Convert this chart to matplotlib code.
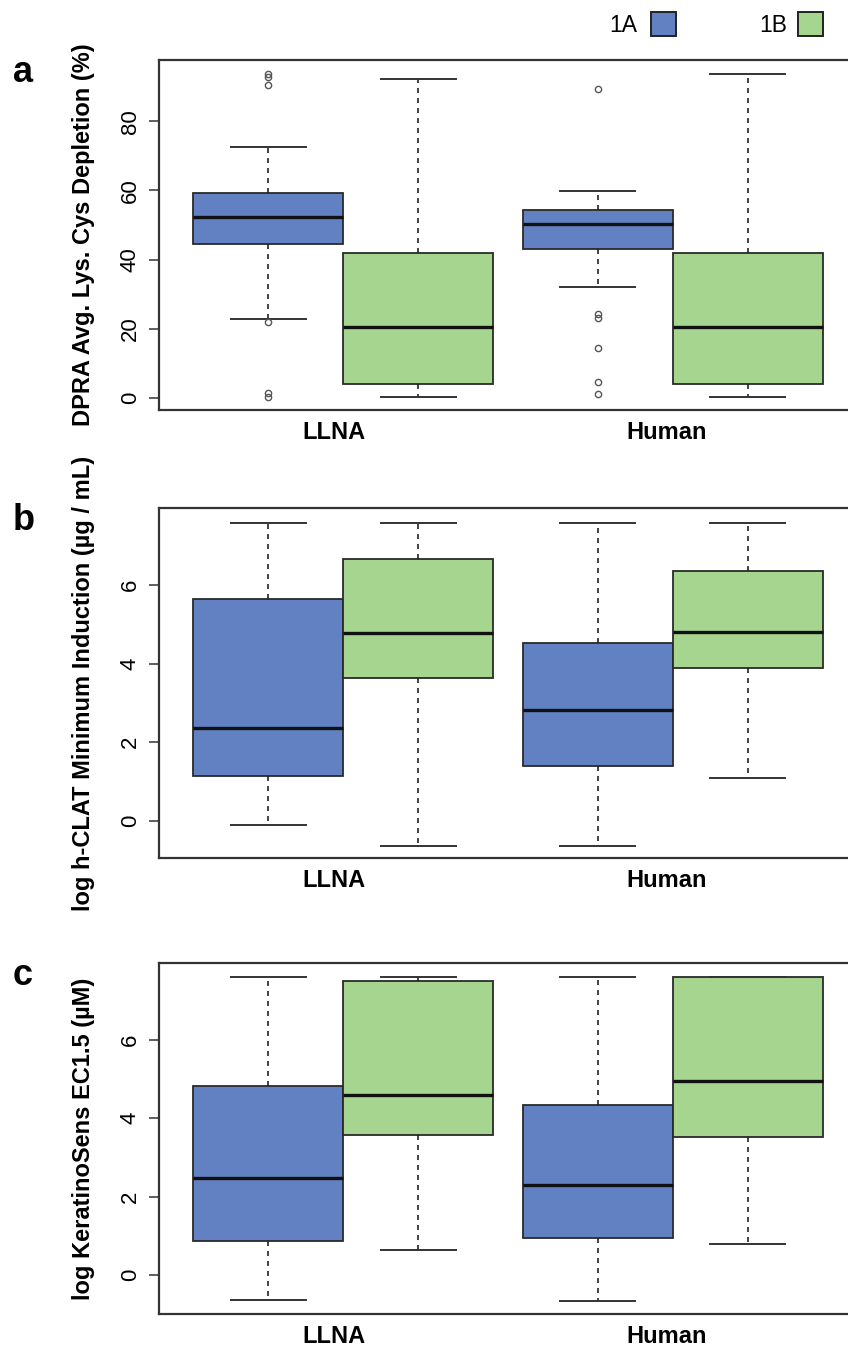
import matplotlib.pyplot as plt
from matplotlib.patches import Rectangle

plt.rcParams['font.family'] = ['Liberation Sans', 'DejaVu Sans']

groups = ['LLNA', 'Human']
classes = ['1A', '1B']
colors = ['#6281c2', '#a6d590', '#6281c2', '#a6d590']
positions = [1, 2, 3.2, 4.2]

# a: DPRA avg. Lys/Cys depletion, order LLNA-1A, LLNA-1B, Human-1A, Human-1B
dpra_lo = [22.9, 0.1, 32.1, 0.1]
dpra_q1 = [44.6, 4.0, 43.0, 4.0]
dpra_med = [52.2, 20.4, 50.3, 20.4]
dpra_q3 = [59.4, 41.8, 54.2, 41.8]
dpra_hi = [72.5, 92.3, 59.8, 93.7]
dpra_out = [[93.6, 93.0, 90.6, 21.8, 1.2, 0.3], [],
            [89.3, 24.3, 23.0, 14.5, 4.5, 0.9], []]

# b: log h-CLAT minimum induction
hclat_lo = [-0.11, -0.64, -0.65, 1.09]
hclat_q1 = [1.13, 3.64, 1.38, 3.89]
hclat_med = [2.37, 4.79, 2.83, 4.81]
hclat_q3 = [5.65, 6.66, 4.52, 6.36]
hclat_hi = [7.59, 7.59, 7.59, 7.59]

# c: log KeratinoSens EC1.5
ks_lo = [-0.63, 0.63, -0.65, 0.80]
ks_q1 = [0.88, 3.58, 0.96, 3.53]
ks_med = [2.48, 4.59, 2.31, 4.94]
ks_q3 = [4.83, 7.51, 4.35, 7.59]
ks_hi = [7.59, 7.59, 7.60, 7.59]

W, H = 848, 1349
fig = plt.figure(figsize=(W / 100, H / 100), dpi=100)


def panel(top, bottom, letter, lo, q1, med, q3, hi, out, ylabel, yticks, ylim):
    ax = fig.add_axes([159 / W, 1 - bottom / H, (857 - 159) / W, (bottom - top) / H])
    stats = []
    for i in range(4):
        stats.append(dict(whislo=lo[i], q1=q1[i], med=med[i], q3=q3[i],
                          whishi=hi[i], fliers=out[i] if out else []))
    bp = ax.bxp(stats, positions=positions, widths=1.0, capwidths=0.5,
                patch_artist=True,
                boxprops=dict(edgecolor='#2a2a2a', linewidth=1.3),
                whiskerprops=dict(color='#222222', linestyle=(0, (3, 3)), linewidth=1.2),
                capprops=dict(color='#333333', linewidth=1.4),
                medianprops=dict(color='#111111', linewidth=2.4),
                flierprops=dict(marker='o', markerfacecolor='none',
                                markeredgecolor='#555555', markersize=4.5,
                                markeredgewidth=1.0))
    for b, c in zip(bp['boxes'], colors):
        b.set_facecolor(c)
    ax.set_xlim(0.273, 4.927)
    ax.set_ylim(*ylim)
    ax.set_yticks(yticks)
    ax.set_yticklabels([str(t) for t in yticks], rotation=90, va='center', fontsize=16)
    ax.set_xticks([1.44, 3.66])
    ax.set_xticklabels(groups, fontsize=17, fontweight='bold')
    ax.tick_params(axis='x', length=0, pad=8)
    ax.tick_params(axis='y', length=7, width=1.1, color='#333333', pad=6)
    for s in ax.spines.values():
        s.set_linewidth(1.6)
        s.set_color('#333333')
    ax.set_ylabel(ylabel, fontsize=17, fontweight='bold', va='center')
    ax.yaxis.set_label_coords((84 - 159) / (857 - 159), 0.5)
    fig.text(13 / W, 1 - (top + 22) / H, letter, fontsize=26, fontweight='bold',
             ha='left', va='baseline')
    return ax


panel(60, 410, 'a', dpra_lo, dpra_q1, dpra_med, dpra_q3, dpra_hi, dpra_out,
      'DPRA Avg. Lys. Cys Depletion (%)', [0, 20, 40, 60, 80], (-3.6, 97.8))
panel(507.7, 858.3, 'b', hclat_lo, hclat_q1, hclat_med, hclat_q3, hclat_hi, None,
      'log h-CLAT Minimum Induction (\u00b5g / mL)', [0, 2, 4, 6], (-0.96, 7.97))
panel(963.3, 1314, 'c', ks_lo, ks_q1, ks_med, ks_q3, ks_hi, None,
      'log KeratinoSens EC1.5 (\u00b5M)', [0, 2, 4, 6], (-0.99, 7.95))

# legend row at the top right
for lab, col, txt_right, box_left in [(classes[0], colors[0], 637, 651),
                                      (classes[1], colors[1], 787, 798)]:
    fig.text(txt_right / W, 1 - 25 / H, lab, fontsize=16.5, ha='right', va='center')
    fig.add_artist(Rectangle((box_left / W, 1 - 36 / H), 25 / W, 24 / H,
                             transform=fig.transFigure, facecolor=col,
                             edgecolor='#222222', linewidth=1.4))

fig.savefig('out.png', dpi=100)
